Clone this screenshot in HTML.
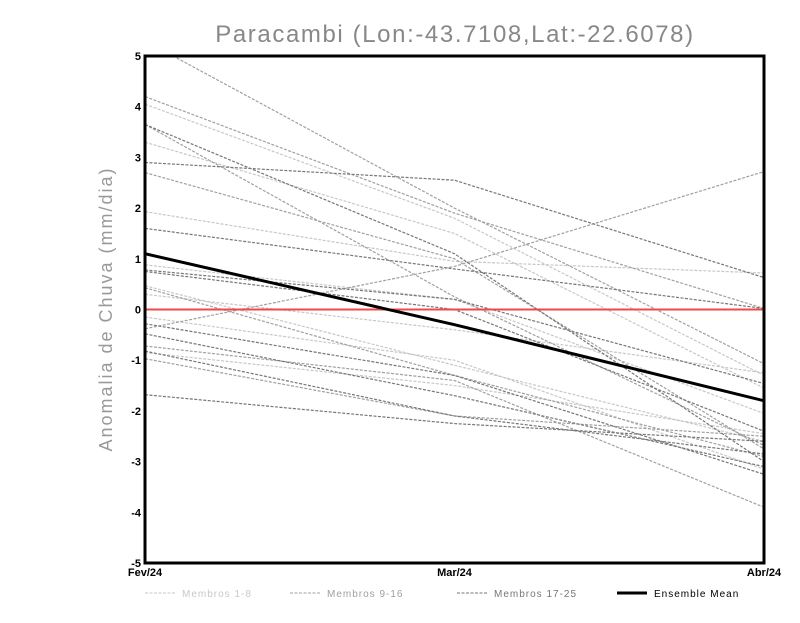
<!DOCTYPE html>
<html><head><meta charset="utf-8"><style>
body{margin:0;background:#fff;width:800px;height:618px;overflow:hidden}
svg text{font-family:"Liberation Sans",sans-serif}
</style></head><body>
<svg id="chart" width="800" height="618">
<text x="455" y="42" text-anchor="middle" font-size="24" fill="#888" letter-spacing="1.6" font-weight="300">Paracambi (Lon:-43.7108,Lat:-22.6078)</text>
<text transform="translate(112,309) rotate(-90)" text-anchor="middle" font-size="18" fill="#999" letter-spacing="2">Anomalia de Chuva (mm/dia)</text>
<g id="plot"></g>
</svg>
<script>
const categories=["Fev/24","Mar/24","Abr/24"];
const yTicks=[5,4,3,2,1,0,-1,-2,-3,-4,-5];
const light=[[4.05,1.8,-1.3],[3.3,1.5,-1.55],[1.93,0.95,0.72],[0.88,0.2,-2.05],[0.3,-0.4,-1.25],[-0.15,-1.0,-3.15],[-0.85,-1.5,-2.45],[0.47,-1.1,-2.6]];
const medium=[[5.3,2.0,-1.07],[4.2,1.9,0.02],[2.7,1.0,-2.75],[-0.38,0.85,2.72],[0.43,-1.3,-2.9],[-0.72,-1.4,-3.9],[3.65,0.25,-2.68],[-0.97,-2.1,-2.5]];
const dark=[[2.9,2.55,0.63],[1.6,0.8,0.02],[0.78,0.2,-1.46],[0.75,0.0,-2.4],[-0.28,-1.3,-3.25],[-0.48,-1.7,-3.1],[-0.82,-2.1,-2.85],[-1.68,-2.25,-2.6],[3.65,1.1,-3.0]];
const mean=[1.1,-0.3,-1.8];
const L=145,R=764,T=56,B=563;
const xs=i=>L+(R-L)*i/(categories.length-1);
const ys=v=>T+(5-v)*(B-T)/10;
const NS="http://www.w3.org/2000/svg";
const g=document.getElementById('plot');
const svg=document.getElementById('chart');
const clip=document.createElementNS(NS,'clipPath');clip.setAttribute('id','c');
const cr=document.createElementNS(NS,'rect');cr.setAttribute('x',L);cr.setAttribute('y',T);cr.setAttribute('width',R-L);cr.setAttribute('height',B-T);
clip.appendChild(cr);svg.appendChild(clip);
const lines=document.createElementNS(NS,'g');lines.setAttribute('clip-path','url(#c)');g.appendChild(lines);
function poly(vals,color,w,dash,name){
 const p=document.createElementNS(NS,'polyline');
 p.setAttribute('points',vals.map((v,i)=>xs(i)+','+ys(v)).join(' '));
 p.setAttribute('fill','none');p.setAttribute('stroke',color);p.setAttribute('stroke-width',w);
 if(dash)p.setAttribute('stroke-dasharray',dash);
 
 
 lines.appendChild(p);
}
light.forEach((s,i)=>poly(s,'#c8c8c8',1.2,'3,1.5','member-line-'+(i+1)));
medium.forEach((s,i)=>poly(s,'#a0a0a0',1.2,'3,1.5','member-line-'+(i+9)));
dark.forEach((s,i)=>poly(s,'#767676',1.2,'3,1.5','member-line-'+(i+17)));
const z=document.createElementNS(NS,'line');
z.setAttribute('x1',L);z.setAttribute('x2',R);z.setAttribute('y1',ys(0));z.setAttribute('y2',ys(0));
z.setAttribute('stroke','#f04848');z.setAttribute('stroke-width',2);


lines.appendChild(z);
poly(mean,'#000',3,null,'ensemble-mean-line');
const fr=document.createElementNS(NS,'rect');
fr.setAttribute('x',L);fr.setAttribute('y',T);fr.setAttribute('width',R-L);fr.setAttribute('height',B-T);
fr.setAttribute('fill','none');fr.setAttribute('stroke','#000');fr.setAttribute('stroke-width',3);


g.appendChild(fr);
yTicks.forEach(v=>{
 const t=document.createElementNS(NS,'text');
 t.setAttribute('x',L-4);t.setAttribute('y',ys(v)+4);t.setAttribute('text-anchor','end');
 t.setAttribute('font-size','11');t.setAttribute('font-weight','bold');
 t.textContent=v;
 
 
 g.appendChild(t);
});
categories.forEach((c,i)=>{
 const t=document.createElementNS(NS,'text');
 t.setAttribute('x',xs(i));t.setAttribute('y',B+13);t.setAttribute('text-anchor','middle');
 t.setAttribute('font-size','11');t.setAttribute('font-weight','bold');
 t.textContent=c;
 
 
 g.appendChild(t);
});
const legend=[["Membros 1-8","#c8c8c8",145,1,"3,1.5"],["Membros 9-16","#a0a0a0",290,1,"3,1.5"],["Membros 17-25","#767676",457,1,"3,1.5"],["Ensemble Mean","#000",617,3,null]];
legend.forEach(l=>{
 const ln=document.createElementNS(NS,'line');
 ln.setAttribute('x1',l[2]);ln.setAttribute('x2',l[2]+30);ln.setAttribute('y1',593);ln.setAttribute('y2',593);
 ln.setAttribute('stroke',l[1]);ln.setAttribute('stroke-width',l[3]);
 if(l[4])ln.setAttribute('stroke-dasharray',l[4]);
 
 
 g.appendChild(ln);
 const t=document.createElementNS(NS,'text');
 t.setAttribute('x',l[2]+37);t.setAttribute('y',597);t.setAttribute('font-size','10');
 t.setAttribute('letter-spacing','1');
 t.setAttribute('fill',l[3]==3?'#000':l[1]);
 t.textContent=l[0];
 
 
 g.appendChild(t);
});
</script>
</body></html>
